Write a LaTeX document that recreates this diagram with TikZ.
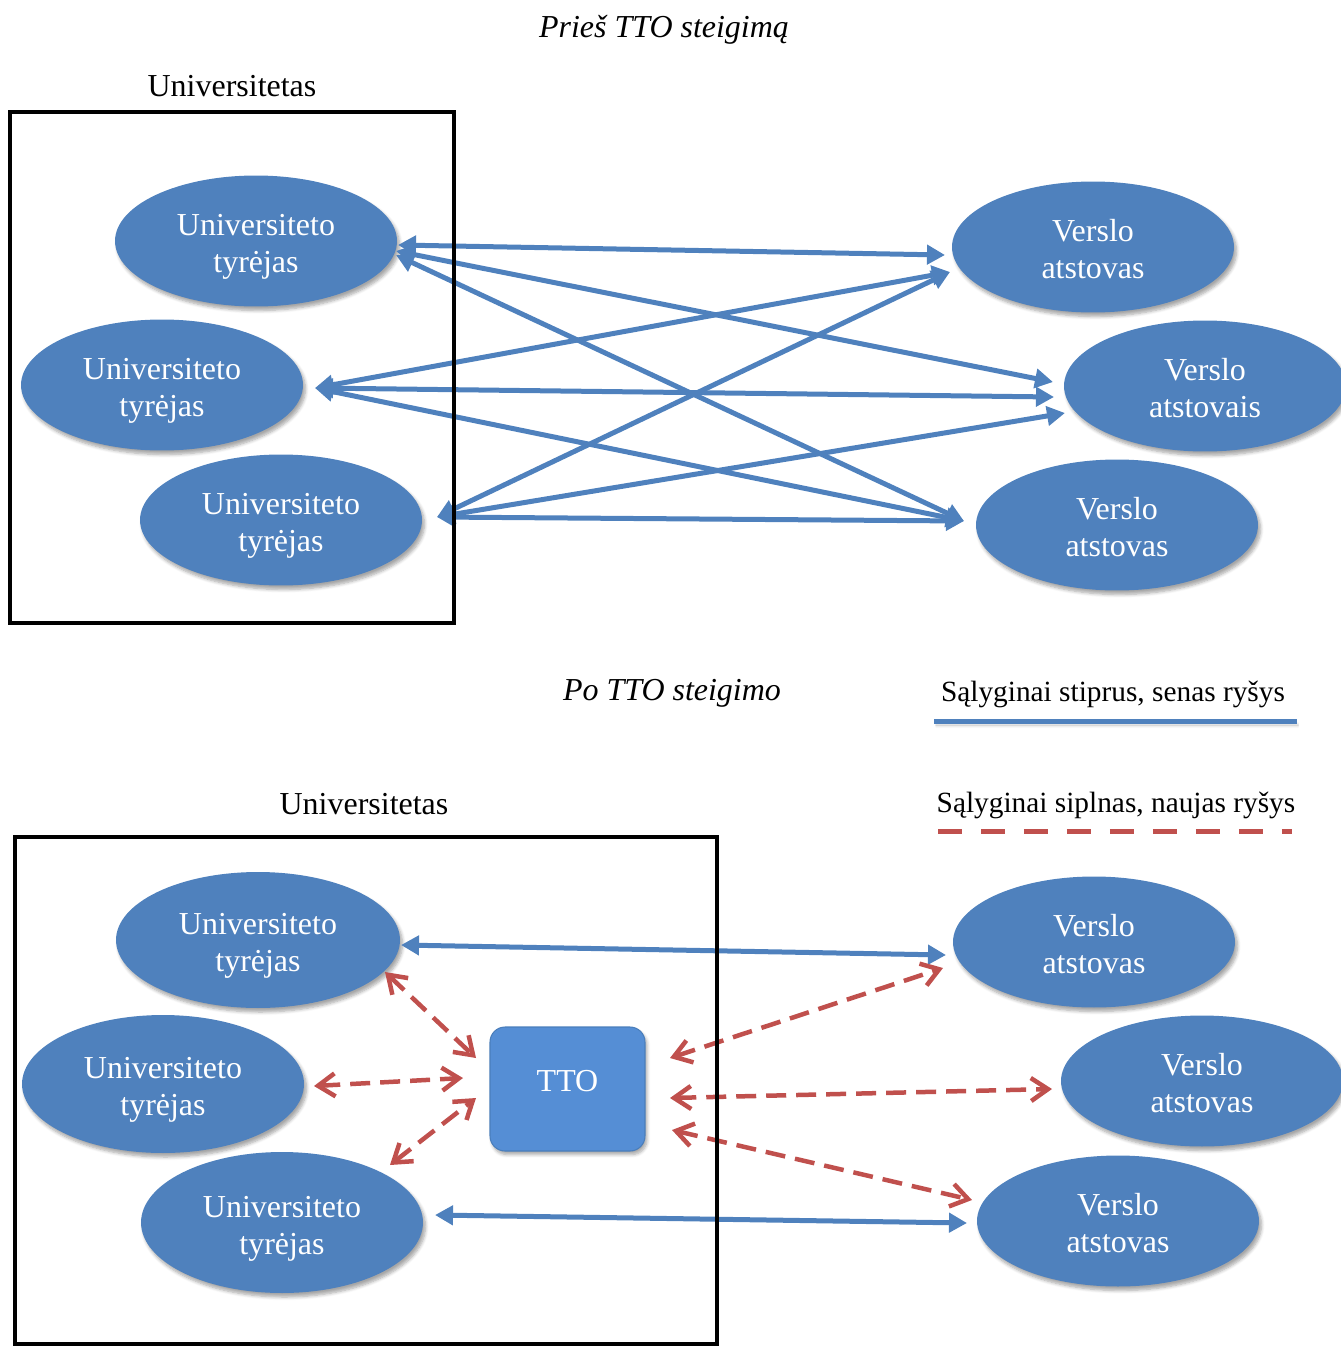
\documentclass[tikz,border=0pt]{standalone}
\usepackage{fontspec}
\setmainfont{Liberation Serif}
\usetikzlibrary{arrows.meta,shapes.geometric,shadows.blur}
\definecolor{linkblue}{HTML}{4F81BD}
\definecolor{linkred}{HTML}{C0504D}
\definecolor{ttoblue}{HTML}{558ED5}
\definecolor{ttoedge}{HTML}{4A7EBB}
\newcommand\figfont{\fontsize{18.2}{21}\selectfont}
\newcommand\legfont{\fontsize{16.7}{20}\selectfont}
% two centred lines, set a little below the middle of their shape
\newcommand\pair[2]{\raisebox{-0.12cm}[\height][\depth]{\begin{tabular}{@{}c@{}}#1\\#2\end{tabular}}}
\begin{document}
\begin{tikzpicture}[x=0.02cm,y=-0.02cm,
  party/.style={ellipse, fill=linkblue, minimum width=5.64cm, minimum height=2.62cm,
    inner sep=0pt, text=white, font=\figfont,
    blur shadow={shadow xshift=0.05cm, shadow yshift=-0.08cm, shadow blur steps=6, shadow opacity=35}},
  office/.style={rectangle, rounded corners=0.3cm, fill=ttoblue, draw=ttoedge, line width=0.6pt,
    minimum width=3.1cm, minimum height=2.48cm, text=white, font=\figfont,
    blur shadow={shadow xshift=0.04cm, shadow yshift=-0.07cm, shadow blur steps=6, shadow opacity=35}},
  label/.style={font=\figfont, inner sep=0pt},
  legend/.style={font=\legfont, inner sep=0pt},
  heading/.style={font=\figfont\itshape, inner sep=0pt},
  strong/.style={draw=linkblue, line width=0.1cm,
    arrows={Triangle[length=0.36cm,width=0.38cm]-Triangle[length=0.36cm,width=0.38cm]}},
  weak/.style={draw=linkred, line width=0.09cm, dash pattern=on 0.4cm off 0.2cm,
    arrows={Straight Barb[length=0.34cm,width=0.46cm]-Straight Barb[length=0.34cm,width=0.46cm]}},
  frame/.style={draw=black, line width=0.075cm}
]
\useasboundingbox (0,0) rectangle (1340,1346);

% ---------- before the TTO ----------
\node[heading] (t1) at (664,30) {Prieš TTO steigimą};
\node[label] (uni1) at (232,86) {Universitetas};

\node[party] (a1) at (256,241) {\pair{Universiteto}{tyrėjas}};
\node[party] (a2) at (162,385) {\pair{Universiteto}{tyrėjas}};
\node[party] (a3) at (281,520) {\pair{Universiteto}{tyrėjas}};
\node[party] (b1) at (1093,247) {\pair{Verslo}{atstovas}};
\node[party] (b2) at (1205,386) {\pair{Verslo}{atstovais}};
\node[party] (b3) at (1117,525) {\pair{Verslo}{atstovas}};

% link end points
\coordinate (a1p) at (398,245);
\coordinate (a1q) at (396,251);
\coordinate (a1r) at (396,255);
\coordinate (a2p) at (315,388);
\coordinate (a3p) at (437,517);
\coordinate (b1p) at (945,255);
\coordinate (b1q) at (950,272);
\coordinate (b2p) at (1053,382);
\coordinate (b2q) at (1054,397);
\coordinate (b2r) at (1065,413);
\coordinate (b3p) at (964,521);

\draw[strong] (a1p) -- (b1p);
\draw[strong] (a1q) -- (b2p);
\draw[strong] (a1r) -- (b3p);
\draw[strong] (a2p) -- (b1q);
\draw[strong] (a2p) -- (b2q);
\draw[strong] (a2p) -- (b3p);
\draw[strong] (a3p) -- (b1q);
\draw[strong] (a3p) -- (b2r);
\draw[strong] (a3p) -- (b3p);

\draw[frame] (10,112) rectangle (454,623);

% ---------- after the TTO ----------
\node[heading] (t2) at (672,693) {Po TTO steigimo};
\node[label] (uni2) at (364,804) {Universitetas};

% legend
\node[legend] (leg1) at (1113,694) {Sąlyginai stiprus, senas ryšys};
\node[legend] (leg2) at (1116,805) {Sąlyginai siplnas, naujas ryšys};
\coordinate (l1a) at (934,721);
\coordinate (l1b) at (1297,721);
\coordinate (l2a) at (938,831);
\coordinate (l2b) at (1292,831);
\draw[draw=linkblue, line width=0.1cm,
  blur shadow={shadow xshift=0.03cm, shadow yshift=-0.08cm, shadow blur steps=4, shadow opacity=30}]
  (l1a) -- (l1b);
\draw[draw=linkred, line width=0.1cm, dash pattern=on 0.48cm off 0.38cm] (l2a) -- (l2b);

\node[party, minimum width=5.68cm, minimum height=2.72cm] (c1) at (258,940) {\pair{Universiteto}{tyrėjas}};
\node[party, minimum height=2.76cm] (c2) at (163,1084) {\pair{Universiteto}{tyrėjas}};
\node[party, minimum height=2.82cm] (c3) at (282,1222.5) {\pair{Universiteto}{tyrėjas}};
\node[party] (d1) at (1094,942) {\pair{Verslo}{atstovas}};
\node[party] (d2) at (1202,1081) {\pair{Verslo}{atstovas}};
\node[party] (d3) at (1118,1221) {\pair{Verslo}{atstovas}};
\node[office] (tto) at (567.5,1089) {\raisebox{0.15cm}[\height][\depth]{TTO}};

% link end points
\coordinate (c1p) at (401,945);
\coordinate (c1q) at (385,972);
\coordinate (c2p) at (314,1086);
\coordinate (c3p) at (435,1215);
\coordinate (c3q) at (390,1165);
\coordinate (d1p) at (946,955);
\coordinate (d1q) at (943,968);
\coordinate (d2p) at (1052,1089);
\coordinate (d3p) at (967,1223);
\coordinate (d3q) at (972,1200);
\coordinate (ttoa) at (476,1058);
\coordinate (ttob) at (463,1078);
\coordinate (ttoc) at (476,1098);
\coordinate (ttod) at (670,1058);
\coordinate (ttoe) at (670,1098);
\coordinate (ttof) at (672,1130);

\draw[strong] (c1p) -- (d1p);
\draw[strong] (c3p) -- (d3p);

\draw[weak] (c1q) -- (ttoa);
\draw[weak] (c2p) -- (ttob);
\draw[weak] (c3q) -- (ttoc);
\draw[weak] (ttod) -- (d1q);
\draw[weak] (ttoe) -- (d2p);
\draw[weak] (ttof) -- (d3q);

\draw[frame] (15,837) rectangle (717,1344);
\end{tikzpicture}
\end{document}
